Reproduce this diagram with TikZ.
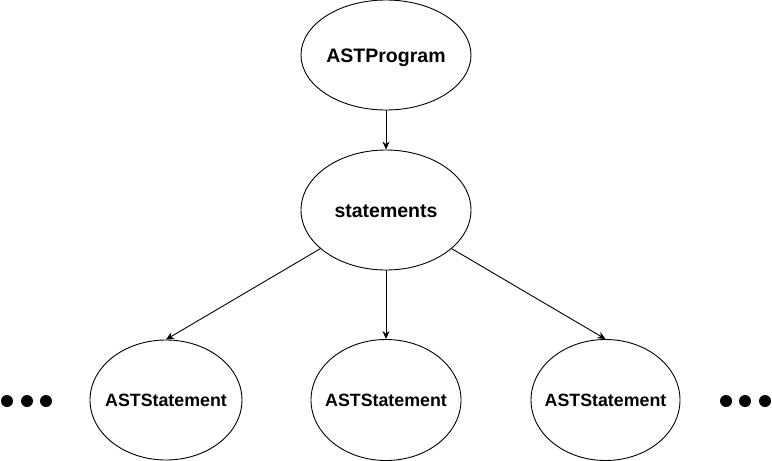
\documentclass[tikz,border=0pt]{standalone}
\usepackage{fontspec}
\setmainfont{Liberation Sans}
\usetikzlibrary{shapes.geometric,arrows.meta}
\begin{document}
\begin{tikzpicture}[x=1pt,y=-1pt,
  ell/.style={ellipse,draw,line width=0.9pt,inner xsep=-12pt,inner ysep=0pt,
    text height=14pt,text depth=0pt,font=\bfseries\fontsize{19.5}{22}\selectfont},
  small/.style={font=\bfseries\fontsize{17.8}{20}\selectfont,text height=12.8pt},
  conn/.style={line width=0.9pt,-{Stealth[length=8pt,width=7pt]}},
  dot/.style={circle,fill=black,inner sep=0pt,minimum size=12pt}]
\useasboundingbox (0,0) rectangle (772,461);
\node[ell,minimum width=170pt,minimum height=110pt] (prog) at (386,55) {ASTProgram};
\node[ell,minimum width=170pt,minimum height=120pt] (st) at (386,210) {statements};
\node[ell,small,minimum width=152pt,minimum height=120pt] (c1) at (166,400) {ASTStatement};
\node[ell,small,minimum width=150pt,minimum height=121pt] (c2) at (386,400) {ASTStatement};
\node[ell,small,minimum width=149pt,minimum height=121pt] (c3) at (605.5,400) {ASTStatement};
\draw[conn] (prog) -- (st);
\draw[conn] (st) -- (c1.north);
\draw[conn] (st) -- (c2.north);
\draw[conn] (st) -- (c3.north);
\node[dot] (l1) at (7,401) {};
\node[dot] (l2) at (27,401) {};
\node[dot] (l3) at (46,401) {};
\node[dot] (r1) at (726,401) {};
\node[dot] (r2) at (745,401) {};
\node[dot] (r3) at (765,401) {};
\end{tikzpicture}
\end{document}
